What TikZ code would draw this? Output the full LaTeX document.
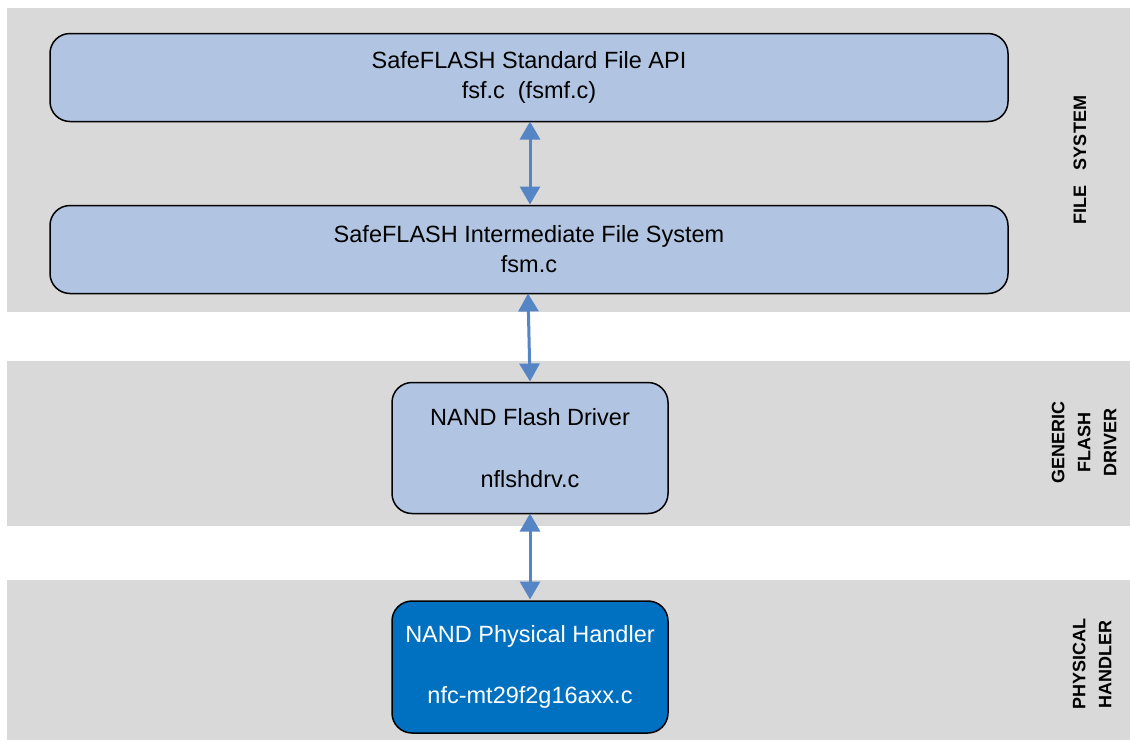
\documentclass[tikz,border=0pt]{standalone}
\usepackage{fontspec}
\setmainfont{Liberation Sans}
\usetikzlibrary{arrows.meta}
\definecolor{bandgray}{HTML}{D9D9D9}
\definecolor{boxblue}{HTML}{B1C5E2}
\definecolor{darkblue}{HTML}{0070C0}
\definecolor{arrowblue}{HTML}{5585C5}
\begin{document}
\begin{tikzpicture}[x=1pt,y=-1pt,
  band/.style={fill=bandgray,draw=none},
  layerbox/.style={draw=black,line width=1.5pt,rounded corners=20pt,fill=boxblue,align=center,
     inner sep=0pt,font=\fontsize{23.5}{30}\selectfont},
  sidelabel/.style={rotate=90,align=center,font=\bfseries\fontsize{18}{26}\selectfont},
  link/.style={draw=arrowblue,line width=3pt,{Triangle[width=20pt,length=18pt]}-{Triangle[width=20pt,length=18pt]},shorten <=0pt,shorten >=0pt}]
\useasboundingbox (0,0) rectangle (1130,740);
\fill[white] (0,0) rectangle (1130,740);
\path[band] (7,8) rectangle (1130,312);
\path[band] (7,361) rectangle (1130,526);
\path[band] (7,580) rectangle (1130,740);

\node[layerbox,minimum width=958pt,minimum height=88pt] (api) at (529,77.5)
  {SafeFLASH Standard File API\\fsf.c\ \ (fsmf.c)};
\node[layerbox,minimum width=958pt,minimum height=88pt] (fsm) at (529,249.5)
  {SafeFLASH Intermediate File System\\fsm.c};
\node[layerbox,minimum width=276pt,minimum height=131pt] (drv) at (530,448)
  {NAND Flash Driver\\[32pt]nflshdrv.c};
\node[layerbox,fill=darkblue,text=white,minimum width=276pt,minimum height=132pt] (phy) at (530,667)
  {NAND Physical Handler\\[31pt]nfc-mt29f2g16axx.c};

\coordinate (a1) at (530,121.5);
\coordinate (a2) at (530,204.5);
\coordinate (b1) at (528,293.5);
\coordinate (b2) at (530,381.5);
\coordinate (c1) at (530,513.5);
\coordinate (c2) at (530,599.5);
\draw[link] (a1) -- (a2);
\draw[link] (b1) -- (b2);
\draw[link] (c1) -- (c2);

\node[sidelabel] (lfs) at (1080,160) {FILE\ \ \ SYSTEM};
\node[sidelabel] (lgf) at (1084,442) {GENERIC\\FLASH\\DRIVER};
\node[sidelabel] (lph) at (1092,664) {PHYSICAL\\HANDLER};
\end{tikzpicture}
\end{document}
